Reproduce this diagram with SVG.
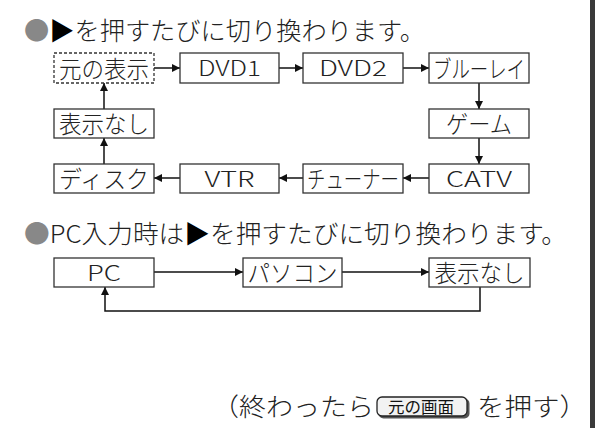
<svg xmlns="http://www.w3.org/2000/svg" width="598" height="428" viewBox="0 0 598 428">
<defs>
<style>
.t{font-family:"Noto Sans CJK JP","Liberation Sans",sans-serif;font-weight:300;fill:#222;}
.h{font-size:25px;}
.b{font-size:24px;text-anchor:middle;}
.l{font-size:21px;}
.box{fill:#fff;stroke:#333;stroke-width:1.3;}
.dash{fill:#fff;stroke:#333;stroke-width:1.3;stroke-dasharray:3 2;}
.c{fill:none;stroke:#111;stroke-width:1.5;}
.g{fill:#888;}
.k{fill:#000;}
</style>
<marker id="ah2" viewBox="0 0 10 10" refX="10" refY="5" markerWidth="8" markerHeight="8" orient="auto" markerUnits="userSpaceOnUse">
<path d="M0,0 L10,5 L0,10 z" fill="#111"/>
</marker>
</defs>
<rect width="598" height="428" fill="#fff"/>
<rect x="590" y="0" width="5" height="428" fill="#3a3a3a"/>

<text class="t h" x="24" y="40" textLength="401" lengthAdjust="spacingAndGlyphs"><tspan class="g">●</tspan><tspan class="k">▶</tspan>を押すたびに切り換わります。</text>
<text class="t h" x="24" y="243" textLength="543" lengthAdjust="spacingAndGlyphs"><tspan class="g">●</tspan>PC入力時は<tspan class="k">▶</tspan>を押すたびに切り換わります。</text>

<g id="connectors">
<path class="c" d="M154,68 H180" marker-end="url(#ah2)"/>
<path class="c" d="M279,68 H303" marker-end="url(#ah2)"/>
<path class="c" d="M403,68 H429" marker-end="url(#ah2)"/>
<path class="c" d="M479,83 V109" marker-end="url(#ah2)"/>
<path class="c" d="M479,138 V164" marker-end="url(#ah2)"/>
<path class="c" d="M429,178 H403" marker-end="url(#ah2)"/>
<path class="c" d="M303,178 H279" marker-end="url(#ah2)"/>
<path class="c" d="M180,178 H154" marker-end="url(#ah2)"/>
<path class="c" d="M104,164 V138" marker-end="url(#ah2)"/>
<path class="c" d="M104,109 V83" marker-end="url(#ah2)"/>
<path class="c" d="M154,272 H243" marker-end="url(#ah2)"/>
<path class="c" d="M342,272 H429" marker-end="url(#ah2)"/>
<path class="c" d="M480,287 V311 H105 V287" marker-end="url(#ah2)"/>
</g>

<g id="n-moto"><rect class="dash" x="54" y="53" width="100" height="30"/><text class="t b" x="104" y="77.5" textLength="90" lengthAdjust="spacingAndGlyphs">元の表示</text></g>
<g id="n-dvd1"><rect class="box" x="180" y="53" width="99" height="30"/><text class="t b l" x="229.5" y="76" textLength="63" lengthAdjust="spacingAndGlyphs">DVD1</text></g>
<g id="n-dvd2"><rect class="box" x="303" y="53" width="100" height="30"/><text class="t b l" x="353" y="76" textLength="68" lengthAdjust="spacingAndGlyphs">DVD2</text></g>
<g id="n-bluray"><rect class="box" x="429" y="53" width="100" height="30"/><text class="t b" x="479" y="77.5" textLength="92" lengthAdjust="spacingAndGlyphs">ブルーレイ</text></g>
<g id="n-game"><rect class="box" x="429" y="109" width="100" height="29"/><text class="t b" x="479" y="133" textLength="66" lengthAdjust="spacingAndGlyphs">ゲーム</text></g>
<g id="n-catv"><rect class="box" x="429" y="164" width="100" height="29"/><text class="t b l" x="479" y="186.5" textLength="66" lengthAdjust="spacingAndGlyphs">CATV</text></g>
<g id="n-tuner"><rect class="box" x="303" y="164" width="100" height="29"/><text class="t b" x="353" y="188" textLength="92" lengthAdjust="spacingAndGlyphs">チューナー</text></g>
<g id="n-vtr"><rect class="box" x="180" y="164" width="99" height="29"/><text class="t b l" x="229.5" y="186.5" textLength="50" lengthAdjust="spacingAndGlyphs">VTR</text></g>
<g id="n-disc"><rect class="box" x="54" y="164" width="100" height="29"/><text class="t b" x="104" y="188" textLength="90" lengthAdjust="spacingAndGlyphs">ディスク</text></g>
<g id="n-nashi"><rect class="box" x="54" y="109" width="100" height="29"/><text class="t b" x="104" y="133" textLength="90" lengthAdjust="spacingAndGlyphs">表示なし</text></g>

<g id="n-pc"><rect class="box" x="54" y="258" width="100" height="29"/><text class="t b l" x="104" y="280.5" textLength="34" lengthAdjust="spacingAndGlyphs">PC</text></g>
<g id="n-pasokon"><rect class="box" x="243" y="258" width="99" height="29"/><text class="t b" x="292.5" y="282" textLength="90" lengthAdjust="spacingAndGlyphs">パソコン</text></g>
<g id="n-nashi2"><rect class="box" x="429" y="258" width="101" height="29"/><text class="t b" x="479.5" y="282" textLength="90" lengthAdjust="spacingAndGlyphs">表示なし</text></g>

<g id="footer">
<text class="t h" x="212" y="416" textLength="162" lengthAdjust="spacingAndGlyphs">（終わったら</text>
<rect x="378.5" y="398.5" width="91" height="20" rx="5" fill="#555"/>
<rect x="377" y="397" width="90" height="19" rx="5" fill="#f2f2f2" stroke="#222" stroke-width="1.3"/>
<text x="421" y="412.5" font-family="Noto Sans CJK JP,sans-serif" font-size="16" font-weight="400" fill="#111" text-anchor="middle" textLength="66" lengthAdjust="spacingAndGlyphs">元の画面</text>
<text class="t h" x="477" y="416" textLength="110" lengthAdjust="spacingAndGlyphs">を押す）</text>
</g>
</svg>
